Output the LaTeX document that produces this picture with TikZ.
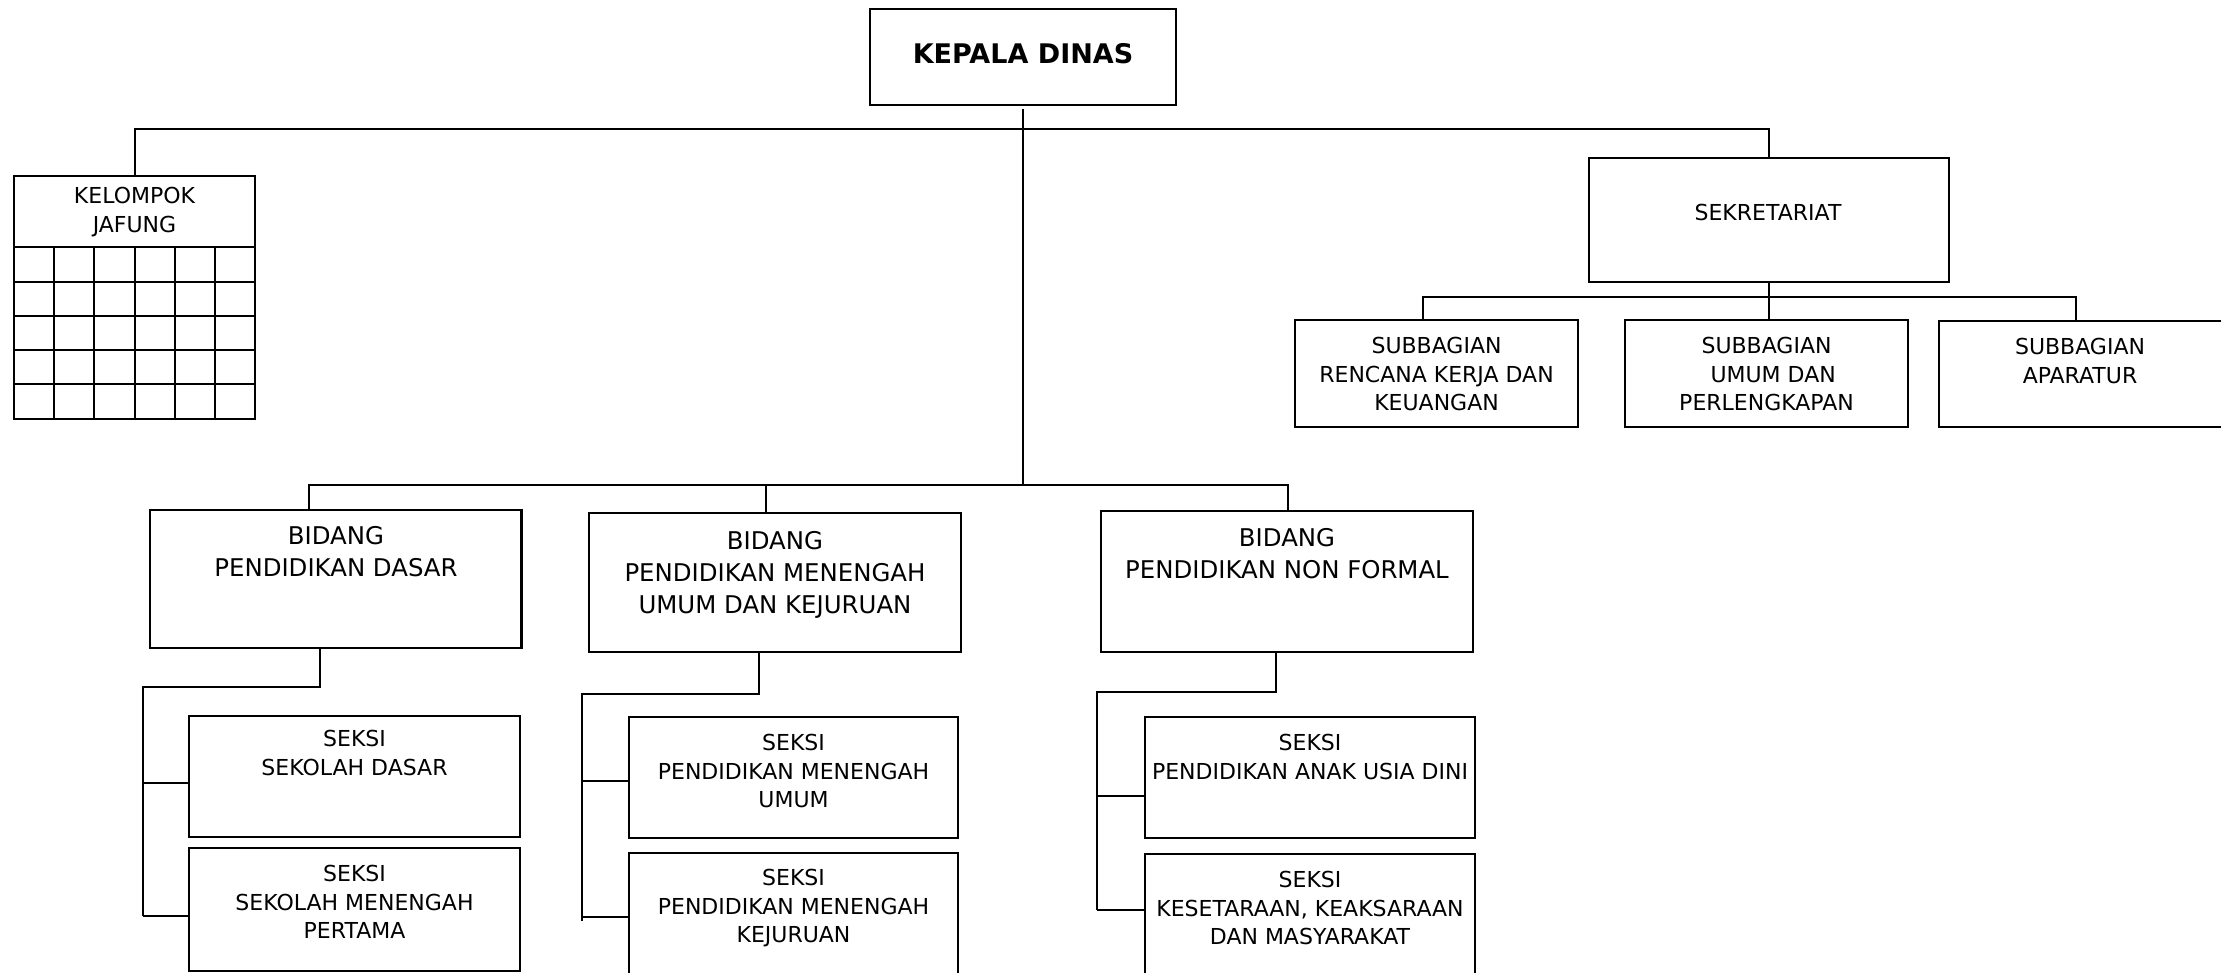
\documentclass[tikz,border=0pt]{standalone}
\usepackage{fontspec}
\setmainfont{DejaVu Sans}
\usetikzlibrary{fit}
\begin{document}
\begin{tikzpicture}[x=0.5pt,y=-0.5pt,
  box/.style={draw, line width=1.3pt, inner sep=0pt},
  conn/.style={line width=1pt},
  gridh/.style={line width=1.3pt},
  gridv/.style={line width=0.9pt},
  lbl/.style={anchor=north, inner sep=0pt, align=center, font=\fontsize{11}{14.3}\selectfont},
  lblb/.style={lbl, font=\fontsize{12.2}{16}\selectfont},
]
\useasboundingbox (0,0) rectangle (2221,973);
\clip (0,0) rectangle (2221,973);
\fill[white] (0,0) rectangle (2221,973);

% Kepala Dinas
\node[box, fit={(870,9) (1176,105)}] (kd) {};
\node[lbl, font=\bfseries\fontsize{13.5}{16}\selectfont] (kdt) at (1023,43) {KEPALA DINAS};

% Kelompok Jafung
\node[box, fit={(14,176) (255,419)}] (kel) {};
\node[lbl] (kelt) at (134.5,187) {KELOMPOK\\JAFUNG};
\foreach \yy in {247,282,316,350,384} \draw[gridh] (14,\yy) -- (255,\yy);
\foreach \xx in {54,94,135,175,215} \draw[gridv] (\xx,247) -- (\xx,419);

% Sekretariat
\node[box, fit={(1589,158) (1949,282)}] (sek) {};
\node[lbl] (sekt) at (1768,204) {SEKRETARIAT};

\node[box, fit={(1295,320) (1578,427)}] (sb1) {};
\node[lbl] (sb1t) at (1436.5,337) {SUBBAGIAN\\RENCANA KERJA DAN\\KEUANGAN};
\node[box, fit={(1625,320) (1908,427)}] (sb2) {};
\node[lbl] (sb2t) at (1766.5,337) {SUBBAGIAN\\\hspace*{0.6em}UMUM DAN\\PERLENGKAPAN};
\node[box, fit={(1939,321) (2235,427)}] (sb3) {};
\node[lbl] (sb3t) at (2080,338) {SUBBAGIAN\\APARATUR};

% Bidang
\node[box, fit={(150,510) (521.5,648)}] (bd1) {};
\node[lblb] (bd1t) at (336,526) {BIDANG\\PENDIDIKAN DASAR};
\node[box, fit={(589,513) (961,652)}] (bd2) {};
\node[lblb] (bd2t) at (775,531) {BIDANG\\PENDIDIKAN MENENGAH\\UMUM DAN KEJURUAN};
\node[box, fit={(1101,511) (1473,652)}] (bd3) {};
\node[lblb] (bd3t) at (1287,528) {BIDANG\\PENDIDIKAN NON FORMAL};

% Seksi
\node[box, fit={(189,716) (520,837)}] (sk1a) {};
\node[lbl] (sk1at) at (354.5,730) {SEKSI\\SEKOLAH DASAR};
\node[box, fit={(189,848) (520,971)}] (sk1b) {};
\node[lbl] (sk1bt) at (354.5,865) {SEKSI\\SEKOLAH MENENGAH\\PERTAMA};
\node[box, fit={(629,717) (958,838)}] (sk2a) {};
\node[lbl] (sk2at) at (793.5,734) {SEKSI\\PENDIDIKAN MENENGAH\\UMUM};
\node[box, fit={(629,853) (958,995)}] (sk2b) {};
\node[lbl] (sk2bt) at (793.5,869) {SEKSI\\PENDIDIKAN MENENGAH\\KEJURUAN};
\node[box, fit={(1145,717) (1475,838)}] (sk3a) {};
\node[lbl] (sk3at) at (1310,734) {SEKSI\\PENDIDIKAN ANAK USIA DINI};
\node[box, fit={(1145,854) (1475,995)}] (sk3b) {};
\node[lbl] (sk3bt) at (1310,871) {SEKSI\\KESETARAAN, KEAKSARAAN\\DAN MASYARAKAT};

% top connectors
\draw[conn] (kel.north) -- ++(0,-46) -| (sek.north);
\coordinate (p1) at (308.5,485);
\coordinate (p2) at (766,485);
\coordinate (p3) at (1288,485);
\draw[conn] ([yshift=-1.5pt]kd.south) -- (kd.south |- p1);
\draw[conn] (p1 |- bd1.north) -- (p1) -- (p3) -- (p3 |- bd3.north);
\draw[conn] (p2) -- (p2 |- bd2.north);

% sekretariat connectors
\coordinate (s1) at (1423,297);
\coordinate (s3) at (2076,297);
\draw[conn] (sek.south) -- (sek.south |- sb2.north);
\draw[conn] (s1 |- sb1.north) -- (s1) -- (s3) -- (s3 |- sb3.north);

% bidang 1 children
\coordinate (d1) at (320,687);
\coordinate (d1l) at (143,687);
\coordinate (e1a) at (143,783);
\coordinate (e1b) at (143,916);
\draw[conn] (d1 |- bd1.south) -- (d1) -- (d1l) -- (e1b);
\draw[conn] (e1a) -- (e1a -| sk1a.west);
\draw[conn] (e1b) -- (e1b -| sk1b.west);

% bidang 2 children
\coordinate (d2) at (759,694);
\coordinate (d2l) at (581.5,694);
\coordinate (e2a) at (581.5,781);
\coordinate (e2b) at (581.5,917);
\coordinate (e2e) at (581.5,921);
\draw[conn] (d2 |- bd2.south) -- (d2) -- (d2l) -- (e2e);
\draw[conn] (e2a) -- (e2a -| sk2a.west);
\draw[conn] (e2b) -- (e2b -| sk2b.west);

% bidang 3 children
\coordinate (d3) at (1276,692);
\coordinate (d3l) at (1097,692);
\coordinate (e3a) at (1097,796);
\coordinate (e3b) at (1097,910);
\draw[conn] (d3 |- bd3.south) -- (d3) -- (d3l) -- (e3b);
\draw[conn] (e3a) -- (e3a -| sk3a.west);
\draw[conn] (e3b) -- (e3b -| sk3b.west);
\end{tikzpicture}
\end{document}
